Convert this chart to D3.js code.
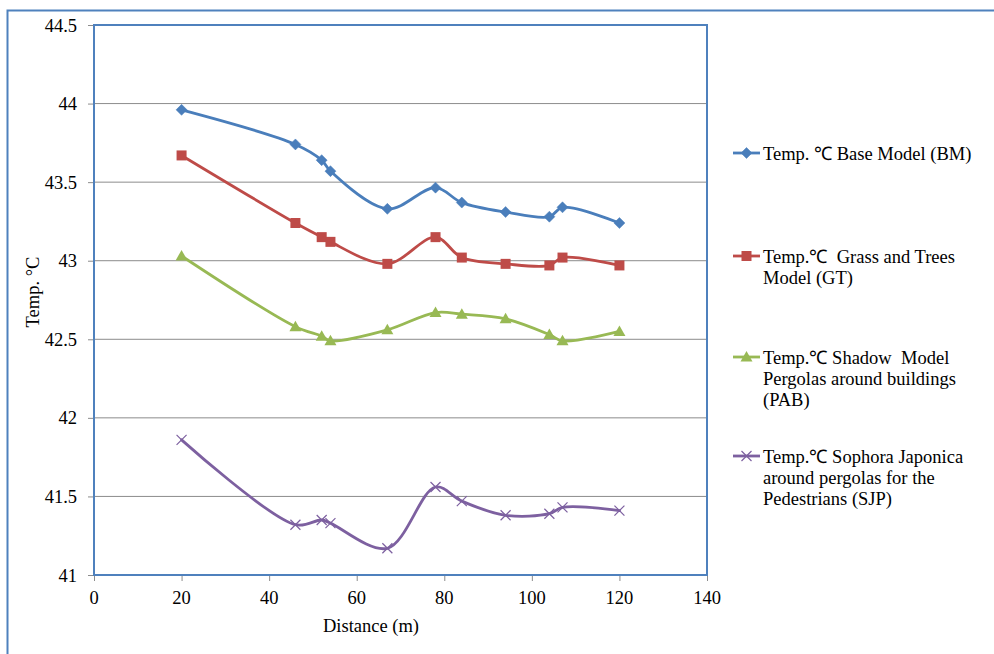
<!DOCTYPE html>
<html>
<head>
<meta charset="utf-8">
<script src="https://cdn.jsdelivr.net/npm/d3@7"></script>
<style>
html,body{margin:0;padding:0;background:#fff;}
svg{display:block;}
text{font-family:"Liberation Serif","Times New Roman",serif;fill:#000;}
</style>
</head>
<body>
<svg id="chart" width="994" height="654"></svg>
<script>
const distances = [20, 46, 52, 54, 67, 78, 84, 94, 104, 107, 120];
const bmValues  = [43.96, 43.74, 43.64, 43.57, 43.33, 43.465, 43.37, 43.31, 43.28, 43.34, 43.24];
const gtValues  = [43.67, 43.24, 43.15, 43.12, 42.98, 43.15, 43.02, 42.98, 42.97, 43.02, 42.97];
const pabValues = [43.03, 42.58, 42.52, 42.49, 42.56, 42.67, 42.66, 42.63, 42.53, 42.49, 42.55];
const sjpValues = [41.86, 41.32, 41.35, 41.33, 41.17, 41.56, 41.47, 41.38, 41.39, 41.43, 41.41];
const seriesNames = [
  ["Temp. \u2103 Base Model (BM)"],
  ["Temp.\u2103  Grass and Trees", "Model (GT)"],
  ["Temp.\u2103 Shadow  Model", "Pergolas around buildings", "(PAB)"],
  ["Temp.\u2103 Sophora Japonica", "around pergolas for the", "Pedestrians (SJP)"]
];
const xTicks = [0, 20, 40, 60, 80, 100, 120, 140];
const yTicks = [41, 41.5, 42, 42.5, 43, 43.5, 44, 44.5];
const xTitle = "Distance (m)";
const yTitle = "Temp. \u00B0C";

const colors = ["#4A7EBB", "#BE4B48", "#98B954", "#7D60A0"];
const markers = ["diamond", "square", "triangle", "x"];
const series = [bmValues, gtValues, pabValues, sjpValues];
const FS = 18.5;

const svg = d3.select("#chart");

// outer frame
svg.append("path").attr("d", "M7.5,660 L7.5,10.5 L1000,10.5")
  .attr("fill", "none").attr("stroke", "#4F81BD").attr("stroke-width", 2);

const L = 94, R = 707, T = 25, B = 575;
const x = d3.scaleLinear().domain([0, 140]).range([L, R]);
const y = d3.scaleLinear().domain([41, 44.5]).range([B, T]);

// gridlines
svg.append("g").selectAll("line").data(yTicks.slice(1)).join("line")
  .attr("x1", L).attr("x2", R)
  .attr("y1", d => y(d)).attr("y2", d => y(d))
  .attr("stroke", "#8C8C8C").attr("stroke-width", 1);

// y axis (tick marks)
const yAxis = svg.append("g").attr("transform", `translate(${L},0)`)
  .call(d3.axisLeft(y).tickValues(yTicks).tickFormat("").tickSize(6));
yAxis.select(".domain").remove();
yAxis.selectAll(".tick line").attr("stroke", "#8C8C8C");
// y tick labels
svg.append("g").selectAll("text").data(yTicks).join("text")
  .attr("x", L - 17).attr("y", d => y(d) + 6.5)
  .attr("text-anchor", "end").style("font-size", FS + "px")
  .text(d => String(d));

// x axis (tick marks)
const xAxis = svg.append("g").attr("transform", `translate(0,${B})`)
  .call(d3.axisBottom(x).tickValues(xTicks).tickFormat("").tickSize(6));
xAxis.select(".domain").remove();
xAxis.selectAll(".tick line").attr("stroke", "#8C8C8C");
// x tick labels
svg.append("g").selectAll("text").data(xTicks).join("text")
  .attr("x", d => x(d)).attr("y", B + 29)
  .attr("text-anchor", "middle").style("font-size", FS + "px")
  .text(d => String(d));

// plot border
svg.append("rect").attr("x", L).attr("y", T).attr("width", R - L).attr("height", B - T)
  .attr("fill", "none").attr("stroke", "#4F81BD").attr("stroke-width", 2);

// titles
svg.append("text").attr("x", 371).attr("y", 632)
  .attr("text-anchor", "middle").style("font-size", FS + "px").text(xTitle);
svg.append("text").attr("transform", "translate(39,292) rotate(-90)")
  .attr("text-anchor", "middle").style("font-size", FS + "px").text(yTitle);

function drawMarker(g, type, color, cx, cy) {
  if (type === "diamond") {
    g.append("path").attr("d", `M${cx},${cy-5.5}L${cx+5.5},${cy}L${cx},${cy+5.5}L${cx-5.5},${cy}Z`)
      .attr("fill", color).attr("stroke", color).attr("stroke-width", 0.5);
  } else if (type === "square") {
    g.append("rect").attr("x", cx - 5).attr("y", cy - 5).attr("width", 10).attr("height", 10)
      .attr("fill", color);
  } else if (type === "triangle") {
    g.append("path").attr("d", `M${cx},${cy-6}L${cx+6},${cy+4.5}L${cx-6},${cy+4.5}Z`)
      .attr("fill", color);
  } else {
    g.append("path").attr("d", `M${cx-5},${cy-5}L${cx+5},${cy+5}M${cx-5},${cy+5}L${cx+5},${cy-5}`)
      .attr("stroke", color).attr("stroke-width", 1.2).attr("fill", "none");
  }
}

const line = d3.line().curve(d3.curveCatmullRom.alpha(0.5))
  .x((d, i) => x(distances[i])).y(d => y(d));

series.forEach((vals, si) => {
  const g = svg.append("g");
  g.append("path").datum(vals).attr("d", line)
    .attr("fill", "none").attr("stroke", colors[si]).attr("stroke-width", 2.8)
    .attr("stroke-linejoin", "round").attr("stroke-linecap", "round");
  vals.forEach((v, i) => drawMarker(g, markers[si], colors[si], x(distances[i]), y(v)));
});

// legend
const legendY = [153, 256, 357, 456];
seriesNames.forEach((lines, si) => {
  const g = svg.append("g");
  const ly = legendY[si];
  g.append("line").attr("x1", 733).attr("x2", 760).attr("y1", ly).attr("y2", ly)
    .attr("stroke", colors[si]).attr("stroke-width", 2.8);
  drawMarker(g, markers[si], colors[si], 746.5, ly);
  lines.forEach((t, li) => {
    g.append("text").attr("x", 763).attr("y", ly + 6.5 + li * 21.3)
      .style("font-size", FS + "px").attr("xml:space", "preserve").style("white-space", "pre").text(t);
  });
});
</script>
</body>
</html>
